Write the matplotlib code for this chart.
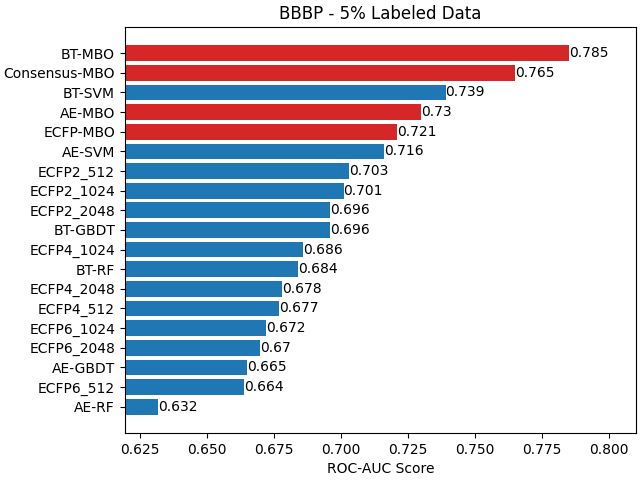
import matplotlib
matplotlib.use("Agg")
import matplotlib.pyplot as plt

# values in display order, top to bottom
models = ["BT-MBO", "Consensus-MBO", "BT-SVM", "AE-MBO", "ECFP-MBO", "AE-SVM",
          "ECFP2_512", "ECFP2_1024", "ECFP2_2048", "BT-GBDT", "ECFP4_1024",
          "BT-RF", "ECFP4_2048", "ECFP4_512", "ECFP6_1024", "ECFP6_2048",
          "AE-GBDT", "ECFP6_512", "AE-RF"]
scores = [0.785, 0.765, 0.739, 0.73, 0.721, 0.716, 0.703, 0.701, 0.696, 0.696,
          0.686, 0.684, 0.678, 0.677, 0.672, 0.67, 0.665, 0.664, 0.632]

colors = ["#d62728" if "MBO" in m else "#1f77b4" for m in models]

fig, ax = plt.subplots(figsize=(6.4, 4.8))
bars = ax.barh(models, scores, color=colors)
ax.invert_yaxis()
for b, s in zip(bars, scores):
    ax.text(b.get_width(), b.get_y() + b.get_height() / 2, f"{s:g}",
            va="center", ha="left", fontsize=10)

ax.set_xlim(0.6195, 0.81)
ax.set_xlabel("ROC-AUC Score")
ax.set_title("BBBP - 5% Labeled Data")
fig.subplots_adjust(left=0.195, right=0.994, top=0.944, bottom=0.098)
fig.savefig("out.png", dpi=100)
